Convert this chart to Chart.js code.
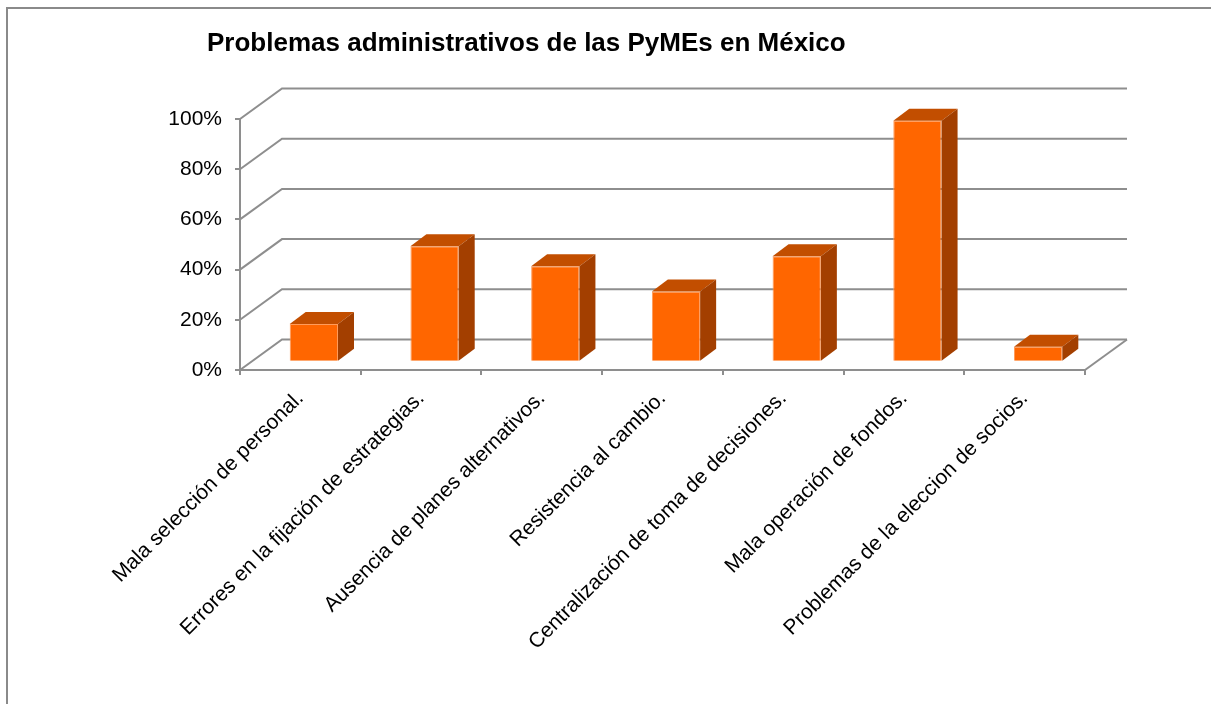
<!DOCTYPE html>
<html>
<head>
<meta charset="utf-8">
<title>Problemas administrativos de las PyMEs en México</title>
<script src="https://cdn.jsdelivr.net/npm/chart.js@4.4.1/dist/chart.umd.min.js"></script>
<style>
  html, body { margin: 0; padding: 0; background: #fff; }
  canvas { display: block; }
</style>
</head>
<body>
<canvas id="chart" width="1211" height="704"></canvas>
<script>
// data
const categories = [
  "Mala selección de personal.",
  "Errores en la fijación de estrategias.",
  "Ausencia de planes alternativos.",
  "Resistencia al cambio.",
  "Centralización de toma de decisiones.",
  "Mala operación de fondos.",
  "Problemas de la eleccion de socios.",
];
const percentValues = [15, 46, 38, 28, 42, 96, 6];
const yTickStep = 20;
const yMax = 100;

const FONT = '"Liberation Sans", Arial, sans-serif';
const GRID = "#8e8e8e";

// fake 3d: back wall offset, bar front offset, bar depth
const WALL = { dx: 42, dy: -30.5 };
const FRONT = { dx: 13.5, dy: -8.3 };
const DEPTH = { dx: 16, dy: -12 };

const frame3d = {
  id: "frame3d",
  beforeDraw(chart) {
    const { ctx, width, height } = chart;
    ctx.save();
    ctx.fillStyle = "#fff";
    ctx.fillRect(0, 0, width, height);
    // outer frame (only top and left visible)
    ctx.strokeStyle = "#8a8a8a";
    ctx.lineWidth = 2;
    ctx.beginPath();
    ctx.moveTo(7, height);
    ctx.lineTo(7, 8);
    ctx.lineTo(width, 8);
    ctx.stroke();
    // title
    ctx.fillStyle = "#000";
    ctx.font = "bold 26px " + FONT;
    ctx.textAlign = "left";
    ctx.textBaseline = "alphabetic";
    ctx.fillText("Problemas administrativos de las PyMEs en México", 207, 51);
    ctx.restore();
  },
  beforeDatasetsDraw(chart) {
    const { ctx, chartArea } = chart;
    const y = chart.scales.y;
    ctx.save();
    ctx.strokeStyle = GRID;
    ctx.lineWidth = 2;
    y.ticks.forEach((t) => {
      const py = y.getPixelForValue(t.value);
      ctx.beginPath();
      ctx.moveTo(chartArea.left, py);
      ctx.lineTo(chartArea.left + WALL.dx, py + WALL.dy);
      ctx.lineTo(chartArea.right + WALL.dx, py + WALL.dy);
      ctx.stroke();
    });
    // right edge of the floor
    ctx.beginPath();
    ctx.moveTo(chartArea.right, chartArea.bottom);
    ctx.lineTo(chartArea.right + WALL.dx, chartArea.bottom + WALL.dy);
    ctx.stroke();
    ctx.restore();
    // front faces are drawn by chart.js, pushed into the box
    ctx.save();
    ctx.translate(FRONT.dx, FRONT.dy);
  },
  afterDatasetsDraw(chart) {
    const { ctx } = chart;
    ctx.restore();
    const meta = chart.getDatasetMeta(0);
    ctx.save();
    meta.data.forEach((bar) => {
      const { x, y, base, width } = bar.getProps(["x", "y", "base", "width"], true);
      const l = x - width / 2 + FRONT.dx;
      const r = x + width / 2 + FRONT.dx;
      const t = y + FRONT.dy;
      const b = base + FRONT.dy;
      // top
      ctx.fillStyle = "#C24E00";
      ctx.beginPath();
      ctx.moveTo(l, t);
      ctx.lineTo(l + DEPTH.dx, t + DEPTH.dy);
      ctx.lineTo(r + DEPTH.dx, t + DEPTH.dy);
      ctx.lineTo(r, t);
      ctx.closePath();
      ctx.fill();
      // side
      ctx.fillStyle = "#A33F00";
      ctx.beginPath();
      ctx.moveTo(r, t);
      ctx.lineTo(r + DEPTH.dx, t + DEPTH.dy);
      ctx.lineTo(r + DEPTH.dx, b + DEPTH.dy);
      ctx.lineTo(r, b);
      ctx.closePath();
      ctx.fill();
    });
    ctx.restore();
  },
};

new Chart(document.getElementById("chart"), {
  type: "bar",
  data: {
    labels: categories,
    datasets: [
      {
        data: percentValues,
        backgroundColor: "#FF6600",
        borderColor: "#FF9B5A",
        borderWidth: 1,
        barPercentage: 0.4,
        categoryPercentage: 1,
      },
    ],
  },
  options: {
    responsive: false,
    animation: false,
    devicePixelRatio: 1,
    layout: { padding: { left: 0, right: 126, top: 119, bottom: 0 } },
    plugins: {
      legend: { display: false },
      title: { display: false },
      tooltip: { enabled: false },
    },
    scales: {
      x: {
        offset: true,
        grid: {
          offset: true,
          drawOnChartArea: false,
          drawTicks: true,
          tickLength: 5,
          color: GRID,
          lineWidth: 2,
        },
        border: { display: true, color: GRID, width: 2 },
        ticks: {
          autoSkip: false,
          maxRotation: 45,
          minRotation: 45,
          padding: 11,
          color: "#000",
          font: { family: FONT, size: 21 },
        },
        afterFit: (s) => { s.height = 334; },
      },
      y: {
        min: 0,
        max: yMax,
        grid: {
          drawOnChartArea: false,
          drawTicks: true,
          tickLength: 5,
          color: GRID,
          lineWidth: 2,
        },
        border: { display: true, color: GRID, width: 2 },
        ticks: {
          stepSize: yTickStep,
          padding: 13,
          color: "#000",
          font: { family: FONT, size: 21 },
          callback: (v) => v + "%",
        },
        afterFit: (s) => { s.width = 240; },
      },
    },
  },
  plugins: [frame3d],
});
</script>
</body>
</html>
